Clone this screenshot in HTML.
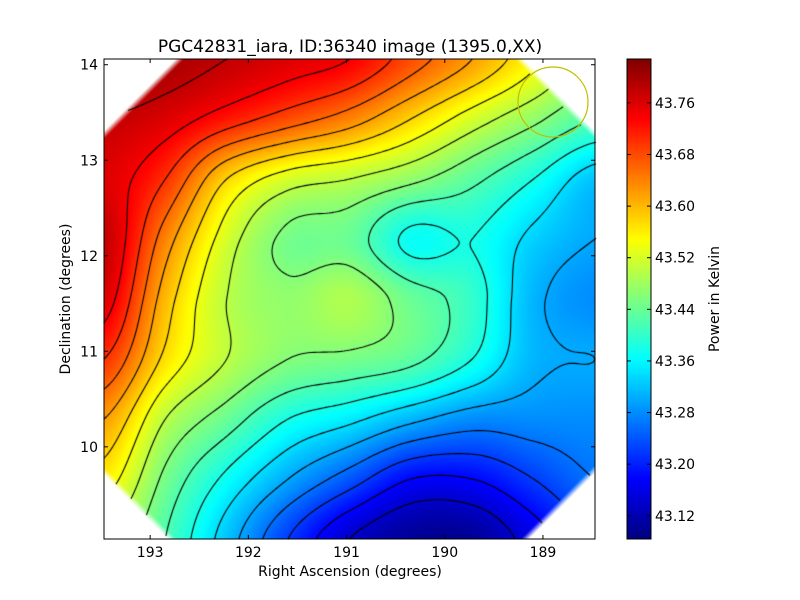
<!DOCTYPE html>
<html><head><meta charset="utf-8"><style>
body{margin:0;background:#fff;width:800px;height:600px;overflow:hidden;position:relative;font-family:"DejaVu Sans","Liberation Sans",sans-serif}
canvas,svg{position:absolute;left:0;top:0}
</style></head><body>
<canvas id="c" width="800" height="600"></canvas>
<svg id="s" width="800" height="600"></svg>
<script>
// grid of field values (rows top->bottom, columns left->right over plot area)
const gridRow0=[43.82,43.80,43.78,43.76,43.74,43.68,43.62,43.55,43.48];
const gridRow1=[43.78,43.76,43.72,43.68,43.64,43.58,43.52,43.47,43.42];
const gridRow2=[43.76,43.70,43.58,43.52,43.50,43.47,43.43,43.38,43.32];
const gridRow3=[43.78,43.64,43.52,43.45,43.44,43.37,43.38,43.33,43.30];
const gridRow4=[43.76,43.60,43.50,43.47,43.49,43.44,43.40,43.31,43.28];
const gridRow5=[43.70,43.57,43.50,43.46,43.45,43.43,43.38,43.31,43.30];
const gridRow6=[43.62,43.50,43.44,43.38,43.35,43.31,43.28,43.28,43.28];
const gridRow7=[43.56,43.45,43.37,43.30,43.24,43.18,43.18,43.22,43.26];
const gridRow8=[43.50,43.42,43.32,43.22,43.14,43.10,43.10,43.16,43.22];
const xTicks=[193,192,191,190,189];
const yTicks=[10,11,12,13,14];
const cbTicks=[43.12,43.20,43.28,43.36,43.44,43.52,43.60,43.68,43.76];
const grid=[gridRow0,gridRow1,gridRow2,gridRow3,gridRow4,gridRow5,gridRow6,gridRow7,gridRow8];

const L=104,R=595,T=59,B=539;
const xs=v=>L+(193.47-v)/(193.47-188.47)*(R-L);
const ys=v=>T+(14.06-v)/(14.06-9.035)*(B-T);
const vmin=43.084,vmax=43.828;
const cy=v=>B-(v-vmin)/(vmax-vmin)*(B-T);
function jet(t){t=Math.max(0,Math.min(1,t));const c=x=>Math.max(0,Math.min(1,x));
return [c(1.5-Math.abs(4*t-3))*255,c(1.5-Math.abs(4*t-2))*255,c(1.5-Math.abs(4*t-1))*255];}
function cr(p0,p1,p2,p3,t){return p1+0.5*t*(p2-p0+t*(2*p0-5*p1+4*p2-p3+t*(3*(p1-p2)+p3-p0)));}
const n=grid.length-1,m=grid[0].length-1;
function g(i,j){i=Math.max(0,Math.min(n,i));j=Math.max(0,Math.min(m,j));return grid[i][j];}
function field(px,py){const u=(px-L)/(R-L)*m,v=(py-T)/(B-T)*n;
const j=Math.min(m-1,Math.floor(u)),i=Math.min(n-1,Math.floor(v));const tu=u-j,tv=v-i;const r=[];
for(let k=-1;k<3;k++)r.push(cr(g(i+k,j-1),g(i+k,j),g(i+k,j+1),g(i+k,j+2),tu));
return cr(r[0],r[1],r[2],r[3],tv);}
function inside(px,py){const c=76;const d1=(px-L)+(py-T)-c,d2=(R-px)+(py-T)-c,d3=(px-L)+(B-py)-68,d4=(R-px)+(B-py)-70;
return Math.min(d1,d2,d3,d4)/Math.SQRT2;}
const ctx=document.getElementById('c').getContext('2d');
const W=R-L,H=B-T,img=ctx.createImageData(W,H);
for(let y=0;y<H;y++)for(let x=0;x<W;x++){const px=L+x+.5,py=T+y+.5;const col=jet((field(px,py)-vmin)/(vmax-vmin));
const a=Math.max(0,Math.min(1,(inside(px,py)+3)/6));const k=(y*W+x)*4;
img.data[k]=255+(col[0]-255)*a;img.data[k+1]=255+(col[1]-255)*a;img.data[k+2]=255+(col[2]-255)*a;img.data[k+3]=255;}
ctx.putImageData(img,L,T);
const st=3,nx=Math.ceil(W/st),ny=Math.ceil(H/st),F=[];
for(let i=0;i<=ny;i++){F.push([]);for(let j=0;j<=nx;j++)F[i].push(field(L+j*st,T+i*st));}
ctx.strokeStyle='#000';ctx.lineWidth=1.1;ctx.beginPath();
for(let lv=43.14;lv<43.82;lv+=0.04){
for(let i=0;i<ny;i++)for(let j=0;j<nx;j++){const a=F[i][j],b=F[i][j+1],c=F[i+1][j+1],d=F[i+1][j];
const x0=L+j*st,y0=T+i*st,pts=[];
const e=(p,q,P,Q)=>{if((p<lv)!==(q<lv)){const t=(lv-p)/(q-p);pts.push([P[0]+(Q[0]-P[0])*t,P[1]+(Q[1]-P[1])*t]);}};
e(a,b,[x0,y0],[x0+st,y0]);e(b,c,[x0+st,y0],[x0+st,y0+st]);e(c,d,[x0+st,y0+st],[x0,y0+st]);e(d,a,[x0,y0+st],[x0,y0]);
for(let k=0;k+1<pts.length;k+=2){if(inside(pts[k][0],pts[k][1])<0)continue;ctx.moveTo(pts[k][0],pts[k][1]);ctx.lineTo(pts[k+1][0],pts[k+1][1]);}}}
ctx.stroke();
for(let y=T;y<B;y++){const c=jet((vmax-(y-T+.5)/(B-T)*(vmax-vmin)-vmin)/(vmax-vmin));ctx.fillStyle=`rgb(${c[0]|0},${c[1]|0},${c[2]|0})`;ctx.fillRect(627,y,24,1);}

const s=document.getElementById('s'),NS='http://www.w3.org/2000/svg';
function el(t,a,txt){const e=document.createElementNS(NS,t);for(const k in a)e.setAttribute(k,a[k]);if(txt!=null)e.textContent=txt;s.appendChild(e);return e;}
let e=el('rect',{x:L,y:T,width:W,height:H,fill:'none',stroke:'#000'});

e=el('rect',{x:627,y:T,width:24,height:H,fill:'none',stroke:'#000'});

e=el('circle',{cx:553,cy:102,r:35,fill:'none',stroke:'#bfbf00','stroke-width':1.2});

xTicks.forEach(v=>{const x=xs(v);el('line',{x1:x,x2:x,y1:B,y2:B-4,stroke:'#000'});el('line',{x1:x,x2:x,y1:T,y2:T+4,stroke:'#000'});
e=el('text',{x:x,y:B+18,'text-anchor':'middle','font-size':14},String(v));
});
yTicks.forEach(v=>{const y=ys(v);el('line',{x1:L,x2:L+4,y1:y,y2:y,stroke:'#000'});el('line',{x1:R,x2:R-4,y1:y,y2:y,stroke:'#000'});
e=el('text',{x:L-6,y:y+5,'text-anchor':'end','font-size':14},String(v));
});
cbTicks.forEach(v=>{const y=cy(v);el('line',{x1:651,x2:647,y1:y,y2:y,stroke:'#000'});el('line',{x1:627,x2:631,y1:y,y2:y,stroke:'#000'});
e=el('text',{x:655,y:y+5,'font-size':14},v.toFixed(2));
});
e=el('text',{x:350,y:52,'text-anchor':'middle','font-size':17},'PGC42831_iara, ID:36340 image (1395.0,XX)');

e=el('text',{x:350,y:576,'text-anchor':'middle','font-size':14},'Right Ascension (degrees)');

e=el('text',{x:70,y:299,'text-anchor':'middle','font-size':14,transform:'rotate(-90 70 299)'},'Declination (degrees)');

e=el('text',{x:719,y:299,'text-anchor':'middle','font-size':14,transform:'rotate(-90 719 299)'},'Power in Kelvin');

</script>
</body></html>
